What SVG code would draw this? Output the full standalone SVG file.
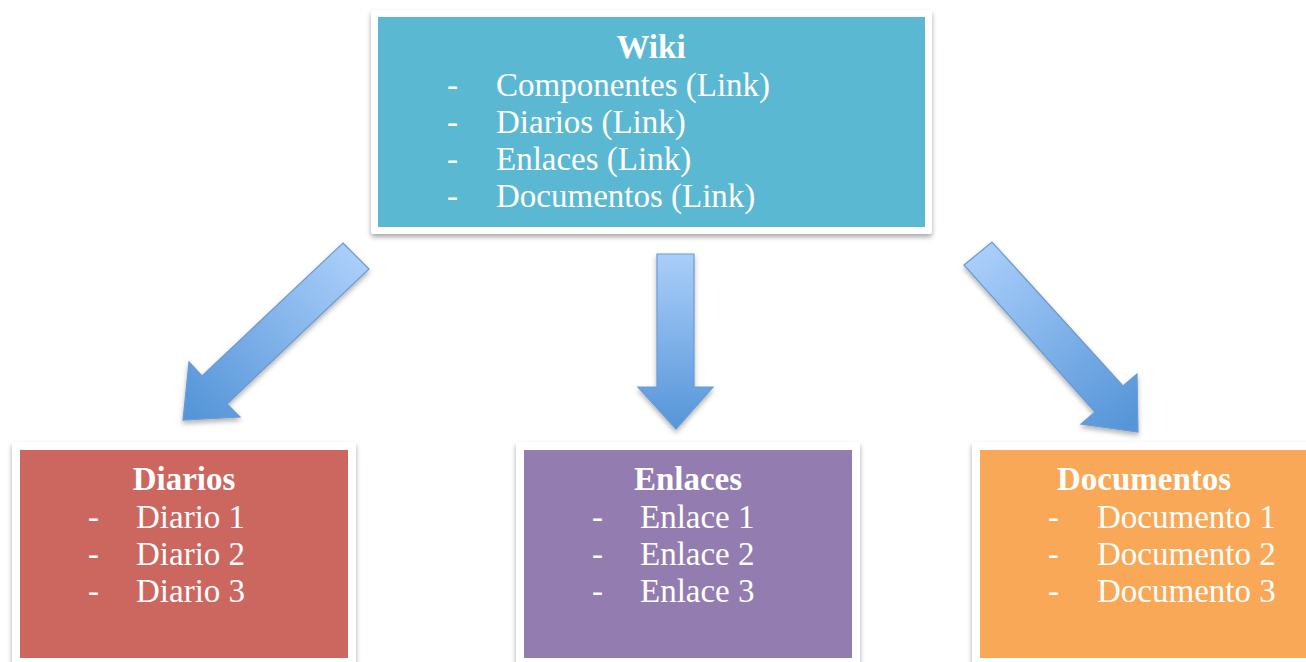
<svg xmlns="http://www.w3.org/2000/svg" width="1306" height="662" viewBox="0 0 1306 662">
<defs>
<filter id="sh" x="-10%" y="-10%" width="120%" height="125%">
<feDropShadow dx="0" dy="3" stdDeviation="2.5" flood-color="#000" flood-opacity="0.35"/>
</filter>
<filter id="ash" x="-20%" y="-20%" width="140%" height="140%">
<feDropShadow dx="0" dy="3" stdDeviation="2.5" flood-color="#000" flood-opacity="0.3"/>
</filter>
<linearGradient id="gl" gradientUnits="userSpaceOnUse" x1="356" y1="256" x2="190" y2="415">
<stop offset="0" stop-color="#AACEFA"/><stop offset="1" stop-color="#5595D8"/>
</linearGradient>
<linearGradient id="gm" gradientUnits="userSpaceOnUse" x1="0" y1="254" x2="0" y2="429">
<stop offset="0" stop-color="#AACEFA"/><stop offset="1" stop-color="#5595D8"/>
</linearGradient>
<linearGradient id="gr" gradientUnits="userSpaceOnUse" x1="977" y1="254" x2="1130" y2="425">
<stop offset="0" stop-color="#AACEFA"/><stop offset="1" stop-color="#5595D8"/>
</linearGradient>
<style>
.frame{fill:#fff;filter:url(#sh)}
.t{font-family:"Liberation Serif","Times New Roman",serif;font-size:33px;fill:#fff}
.b{font-weight:bold;text-anchor:middle}
.arr{stroke:#6B9AD2;stroke-width:1.2;filter:url(#ash)}
</style>
</defs>
<rect width="1306" height="662" fill="#fff"/>
<g id="connectors">
<polygon class="arr" fill="url(#gl)" points="343,243 369,269 227,404 240,417 183,420 189,362 202,376"/>
<polygon class="arr" fill="url(#gm)" points="657,254 694,254 694,387 713,387 676,429 638,387 657,387"/>
<polygon class="arr" fill="url(#gr)" points="964,265 992,242 1123,386 1137,374 1138,432 1081,424 1095,412"/>
</g>
<g id="wiki">
<rect class="frame" x="371" y="10" width="561" height="224" rx="3"/>
<rect x="378" y="17" width="547" height="210" fill="#5BB8D2"/>
<text class="t b" x="651" y="58">Wiki</text>
<text class="t" x="447" y="96">-</text><text class="t" x="496" y="96">Componentes (Link)</text>
<text class="t" x="447" y="133">-</text><text class="t" x="496" y="133">Diarios (Link)</text>
<text class="t" x="447" y="170">-</text><text class="t" x="496" y="170">Enlaces (Link)</text>
<text class="t" x="447" y="207">-</text><text class="t" x="496" y="207">Documentos (Link)</text>
</g>
<g id="diarios">
<rect class="frame" x="12" y="442" width="344" height="230" rx="3"/>
<rect x="20" y="450" width="328" height="208" fill="#CC6760"/>
<text class="t b" x="184" y="490">Diarios</text>
<text class="t" x="88" y="528">-</text><text class="t" x="136" y="528">Diario 1</text>
<text class="t" x="88" y="565">-</text><text class="t" x="136" y="565">Diario 2</text>
<text class="t" x="88" y="602">-</text><text class="t" x="136" y="602">Diario 3</text>
</g>
<g id="enlaces">
<rect class="frame" x="516" y="442" width="344" height="230" rx="3"/>
<rect x="524" y="450" width="328" height="208" fill="#937CB0"/>
<text class="t b" x="688" y="490">Enlaces</text>
<text class="t" x="592" y="528">-</text><text class="t" x="640" y="528">Enlace 1</text>
<text class="t" x="592" y="565">-</text><text class="t" x="640" y="565">Enlace 2</text>
<text class="t" x="592" y="602">-</text><text class="t" x="640" y="602">Enlace 3</text>
</g>
<g id="documentos">
<rect class="frame" x="972" y="442" width="344" height="230" rx="3"/>
<rect x="980" y="450" width="336" height="208" fill="#F9A857"/>
<text class="t b" x="1144" y="490">Documentos</text>
<text class="t" x="1048" y="528">-</text><text class="t" x="1097" y="528">Documento 1</text>
<text class="t" x="1048" y="565">-</text><text class="t" x="1097" y="565">Documento 2</text>
<text class="t" x="1048" y="602">-</text><text class="t" x="1097" y="602">Documento 3</text>
</g>
</svg>
